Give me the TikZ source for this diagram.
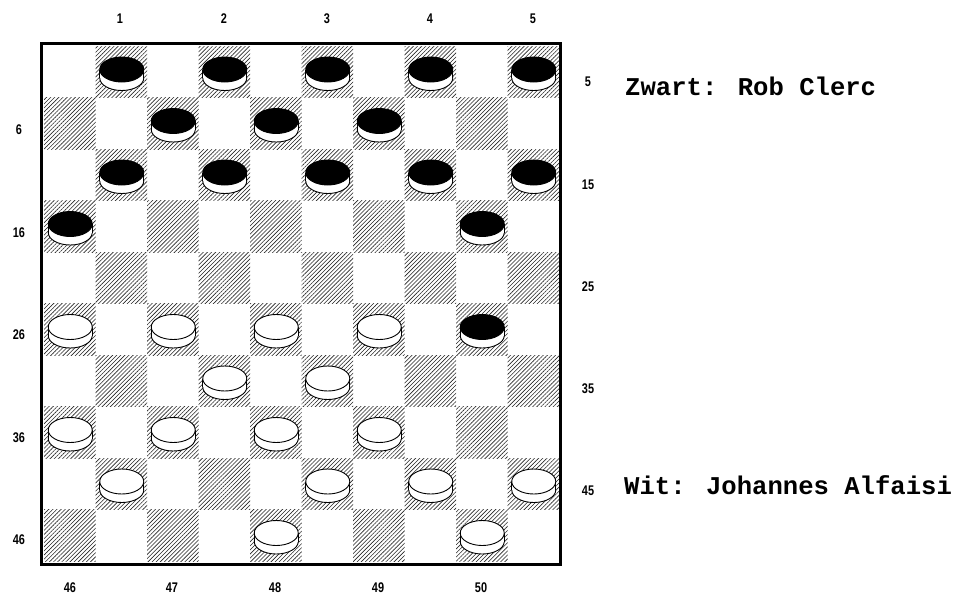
\documentclass[tikz,border=0pt]{standalone}
\usepackage{fontspec}
\setmainfont{Liberation Sans}
\newfontfamily\monofont{Liberation Mono}
\newfontfamily\narrowfont[FakeStretch=0.78]{Liberation Sans}
\usetikzlibrary{patterns.meta}
\tikzset{
  hatch/.style={pattern={Lines[angle=45,distance=2.9pt,line width=0.6pt]},pattern color=black!85},
  boardframe/.style={line width=3pt},
  pieceline/.style={line width=0.9pt,draw=black},
  numlabel/.style={font=\narrowfont\bfseries\fontsize{14}{14}\selectfont,inner sep=0pt},
  namelabel/.style={font=\monofont\bfseries\fontsize{25.6}{25.6}\selectfont,inner sep=0pt,anchor=base west},
  disc/.pic={
    \fill[white] (-22,0) rectangle (22,8.5);
    \draw[pieceline,fill=white] (0,8.5) ellipse [x radius=22pt, y radius=12.5pt];
    \fill[white] (-22,0) rectangle (22,8.5);
    \draw[pieceline] (-22,0) -- (-22,8.5) (22,0) -- (22,8.5);
    \draw[pieceline,fill=\pgfkeysvalueof{/tikz/disctop}] (0,0) ellipse [x radius=22pt, y radius=12.5pt];
  },
  disctop/.initial=black
}
\begin{document}
\begin{tikzpicture}[x=1pt,y=-1pt]
\useasboundingbox[fill=white] (0,0) rectangle (959,595);
% hatched dark squares
\foreach \r in {1,...,10}{
  \foreach \c in {1,...,10}{
    \pgfmathtruncatemacro{\odd}{mod(\r+\c,2)}
    \ifnum\odd=1
      \fill[hatch] ({44+51.5*(\c-1)},{46+51.5*(\r-1)}) rectangle ({44+51.5*\c},{46+51.5*\r});
    \fi
  }
}
% frame
\draw[boardframe] (41.5,43.5) rectangle (560.5,564);
% black pieces
\foreach \c/\r in {2/1,4/1,6/1,8/1,10/1,3/2,5/2,7/2,2/3,4/3,6/3,8/3,10/3,1/4,9/4,9/6}{
  \pic[disctop=black] at ({44.5+51.5*(\c-0.5)},{43.75+51.5*(\r-0.5)}) {disc};
}
% white pieces
\foreach \c/\r in {1/6,3/6,5/6,7/6,4/7,6/7,1/8,3/8,5/8,7/8,2/9,6/9,8/9,10/9,5/10,9/10}{
  \pic[disctop=white] at ({44.5+51.5*(\c-0.5)},{43.75+51.5*(\r-0.5)}) {disc};
}
% top labels
\foreach \n/\x in {1/120,2/224,3/327,4/430,5/533}{
  \node[numlabel] (top\n) at (\x,19) {\n};
}
% bottom labels
\foreach \n/\x in {46/70,47/172,48/275,49/378,50/481}{
  \node[numlabel] (bot\n) at (\x,588) {\n};
}
% left labels
\foreach \n/\y in {6/130,16/233,26/335,36/438,46/540}{
  \node[numlabel] (left\n) at (19,\y) {\n};
}
% right labels
\foreach \n/\y in {5/82,15/185,25/287,35/389,45/491}{
  \node[numlabel] (right\n) at (588,\y) {\n};
}
\node[namelabel] (zwart) at (625,95) {Zwart: Rob Clerc};
\node[namelabel] (wit) at (624,494) {Wit: Johannes Alfaisi};
\end{tikzpicture}
\end{document}
